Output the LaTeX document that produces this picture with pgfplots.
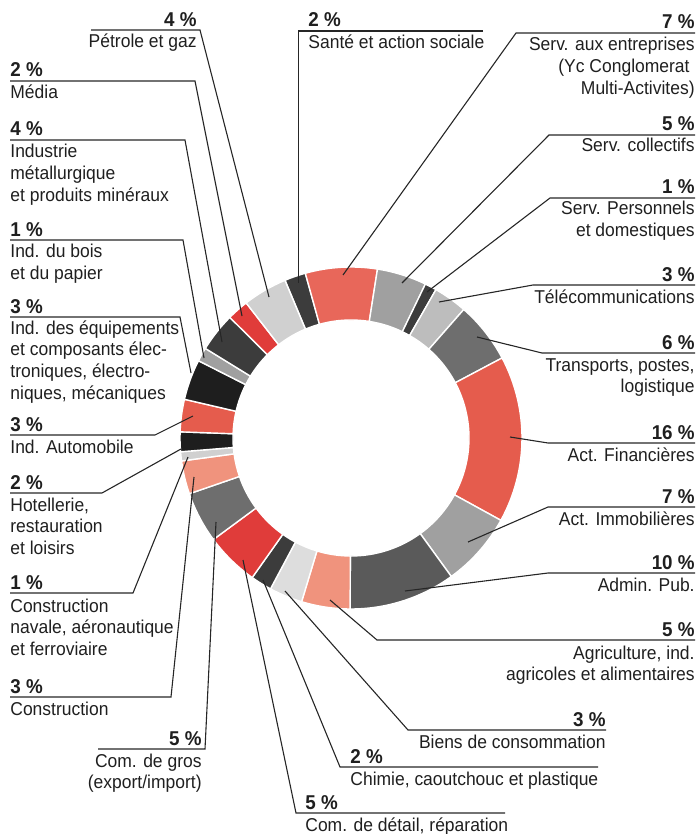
\documentclass[border=0pt]{standalone}
\usepackage{fontspec}
\setmainfont{Liberation Sans}[FakeStretch=0.94]
\usepackage{pgfplots}
\usepackage{pgfplotstable}
\pgfplotsset{compat=1.18}

\definecolor{cBlack}{HTML}{1E1E1E}
\definecolor{cDark}{HTML}{3C3C3C}
\definecolor{cAdmin}{HTML}{5A5A5A}
\definecolor{cMid}{HTML}{6E6E6E}
\definecolor{cGray}{HTML}{A0A0A0}
\definecolor{cLight}{HTML}{BDBDBD}
\definecolor{cPale}{HTML}{D0D0D0}
\definecolor{cPaler}{HTML}{DDDDDD}
\definecolor{cSalmon}{HTML}{E8675A}
\definecolor{cRed}{HTML}{E55C4D}
\definecolor{cBright}{HTML}{E03C3A}
\definecolor{cPeach}{HTML}{F0937D}

\newcommand\lf{\fontsize{9.3}{10.85}\selectfont}
\newcommand\pf{\fontsize{10}{11}\selectfont\bfseries}

% shares read off the ring, clockwise from the top-left
\pgfplotstableread{
name share col
sante 2.00 cDark
entrep 6.78 cSalmon
collec 4.69 cGray
perso 1.11 cDark
telecom 3.19 cLight
transp 5.78 cMid
finance 15.75 cRed
immob 7.03 cGray
admin 10.06 cAdmin
agri 4.58 cPeach
biens 3.14 cPaler
chimie 2.00 cDark
detail 5.08 cBright
gros 4.83 cMid
constr 3.14 cPeach
navale 0.86 cPale
hotel 1.86 cBlack
auto 3.06 cRed
equip 3.83 cBlack
bois 1.31 cGray
metal 3.69 cDark
media 2.03 cBright
petrole 4.19 cPale
}\ringdata

\begin{document}
\begin{tikzpicture}[
    lw/.style={anchor=base west, align=left, font=\lf, inner sep=0pt, text=black!88},
    le/.style={anchor=base east, align=right, font=\lf, inner sep=0pt, text=black!88},
    pw/.style={anchor=base west, font=\pf, inner sep=0pt, text=black!88},
    pe/.style={anchor=base east, font=\pf, inner sep=0pt, text=black!88},
  ]
  \begin{axis}[
    hide axis,
    scale only axis,
    width=350pt, height=417pt,
    xmin=0, xmax=700,
    ymin=0, ymax=834,
    y dir=reverse,
    clip=false,
    leader/.style={black!85, line width=0.55pt, no markers, forget plot},
  ]

  % ring
  \pgfplotstablegetrowsof{\ringdata}
  \pgfmathtruncatemacro\lastrow{\pgfplotsretval-1}
  \gdef\angstart{112.7}
  \pgfplotsforeachungrouped \i in {0,...,\lastrow}{%
    \pgfplotstablegetelem{\i}{share}\of\ringdata
    \pgfmathsetmacro\angend{\angstart-3.6*\pgfplotsretval}%
    \pgfplotstablegetelem{\i}{col}\of\ringdata
    \edef\doseg{\noexpand\fill[\pgfplotsretval, draw=white, line width=0.7pt]
      (axis cs:{351+171*cos(\angstart)},{438-171*sin(\angstart)})
      arc[start angle=\angstart, end angle=\angend, radius=85.5pt]
      -- (axis cs:{351+118*cos(\angend)},{438-118*sin(\angend)})
      arc[start angle=\angend, end angle=\angstart, radius=59pt] -- cycle;}%
    \doseg
    \global\let\angstart\angend
  }

  % leaders
  \addplot[leader] coordinates {(91,30) (200,30) (269,297)};
  \addplot[leader] coordinates {(10,81) (195,81) (242,316)};
  \addplot[leader] coordinates {(10,140) (185,140) (222,342)};
  \addplot[leader] coordinates {(10,240) (183,240) (204,358)};
  \addplot[leader] coordinates {(10,317) (180,317) (191,373)};
  \addplot[leader] coordinates {(10,435) (155,435) (193,416)};
  \addplot[leader] coordinates {(10,493) (102,493) (181,449)};
  \addplot[leader] coordinates {(10,593) (133,593) (188,457)};
  \addplot[leader] coordinates {(10,697) (171,697) (194,477)};
  \addplot[leader] coordinates {(98,749) (205,749) (216,522)};
  \addplot[leader] coordinates {(505,813) (296,813) (243,560)};
  \addplot[leader] coordinates {(598,767) (340,767) (263,580)};
  \addplot[leader] coordinates {(606,730) (408,730) (285,591)};
  \addplot[leader] coordinates {(695,640) (377,640) (330,600)};
  \addplot[leader] coordinates {(695,573) (548,573) (405,591)};
  \addplot[leader] coordinates {(695,507) (548,507) (468,542)};
  \addplot[leader] coordinates {(695,443) (548,443) (510,437)};
  \addplot[leader] coordinates {(695,353) (542,353) (477,337)};
  \addplot[leader] coordinates {(695,285) (533,285) (439,302)};
  \addplot[leader] coordinates {(695,198) (550,198) (427,292)};
  \addplot[leader] coordinates {(695,135) (549,135) (402,283)};
  \addplot[leader] coordinates {(695,33) (516,33) (343,275)};
  \addplot[leader] coordinates {(483,31) (298.5,31) (298.5,283)};

  % labels, left side (multi-line nodes sit on their last baseline)
  \node[pe] at (axis cs:197,27) {4 \%};
  \node[le] at (axis cs:197,48) {Pétrole et gaz};
  \node[pw] at (axis cs:10,77) {2 \%};
  \node[lw] at (axis cs:10,99) {Média};
  \node[pw] at (axis cs:10,136) {4 \%};
  \node[lw] at (axis cs:10,201.4) {Industrie\\métallurgique\\et produits minéraux};
  \node[pw] at (axis cs:10,236) {1 \%};
  \node[lw] at (axis cs:10,279.7) {Ind. du bois\\et du papier};
  \node[pw] at (axis cs:10,313) {3 \%};
  \node[lw] at (axis cs:10,399.1) {Ind. des équipements\\et composants élec-\\troniques, électro-\\niques, mécaniques};
  \node[pw] at (axis cs:10,431) {3 \%};
  \node[lw] at (axis cs:10,453) {Ind. Automobile};
  \node[pw] at (axis cs:10,489) {2 \%};
  \node[lw] at (axis cs:10,554.4) {Hotellerie,\\restauration\\et loisirs};
  \node[pw] at (axis cs:10,589) {1 \%};
  \node[lw] at (axis cs:10,655.4) {Construction\\navale, aéronautique\\et ferroviaire};
  \node[pw] at (axis cs:10,693) {3 \%};
  \node[lw] at (axis cs:10,715) {Construction};
  \node[pe] at (axis cs:202,745) {5 \%};
  \node[le] at (axis cs:202,788.7) {Com. de gros\\(export/import)};

  % labels, bottom and right side
  \node[pw] at (axis cs:305,809) {5 \%};
  \node[lw] at (axis cs:305,831) {Com. de détail, réparation};
  \node[pw] at (axis cs:350,763) {2 \%};
  \node[lw] at (axis cs:350,785) {Chimie, caoutchouc et plastique};
  \node[pe] at (axis cs:606,726) {3 \%};
  \node[le] at (axis cs:606,748) {Biens de consommation};
  \node[pe] at (axis cs:695,636) {5 \%};
  \node[le] at (axis cs:695,680.7) {Agriculture, ind.\\agricoles et alimentaires};
  \node[pe] at (axis cs:695,569) {10 \%};
  \node[le] at (axis cs:695,591) {Admin. Pub.};
  \node[pe] at (axis cs:695,503) {7 \%};
  \node[le] at (axis cs:695,525) {Act. Immobilières};
  \node[pe] at (axis cs:695,439) {16 \%};
  \node[le] at (axis cs:695,461) {Act. Financières};
  \node[pe] at (axis cs:695,349) {6 \%};
  \node[le] at (axis cs:695,392.7) {Transports, postes,\\logistique};
  \node[pe] at (axis cs:695,281) {3 \%};
  \node[le] at (axis cs:695,303) {Télécommunications};
  \node[pe] at (axis cs:695,194) {1 \%};
  \node[le] at (axis cs:695,236.7) {Serv. Personnels\\et domestiques};
  \node[pe] at (axis cs:695,131) {5 \%};
  \node[le] at (axis cs:695,152) {Serv. collectifs};
  \node[pe] at (axis cs:695,29) {7 \%};
  \node[le] at (axis cs:695,94.4) {Serv. aux entreprises\\(Yc Conglomerat\kern2.5pt\\Multi-Activites)};
  \node[pw] at (axis cs:308,27) {2 \%};
  \node[lw] at (axis cs:308,49) {Santé et action sociale};

  \end{axis}
  \pgfresetboundingbox
  \useasboundingbox (current axis.south west) rectangle (current axis.north east);
\end{tikzpicture}
\end{document}
